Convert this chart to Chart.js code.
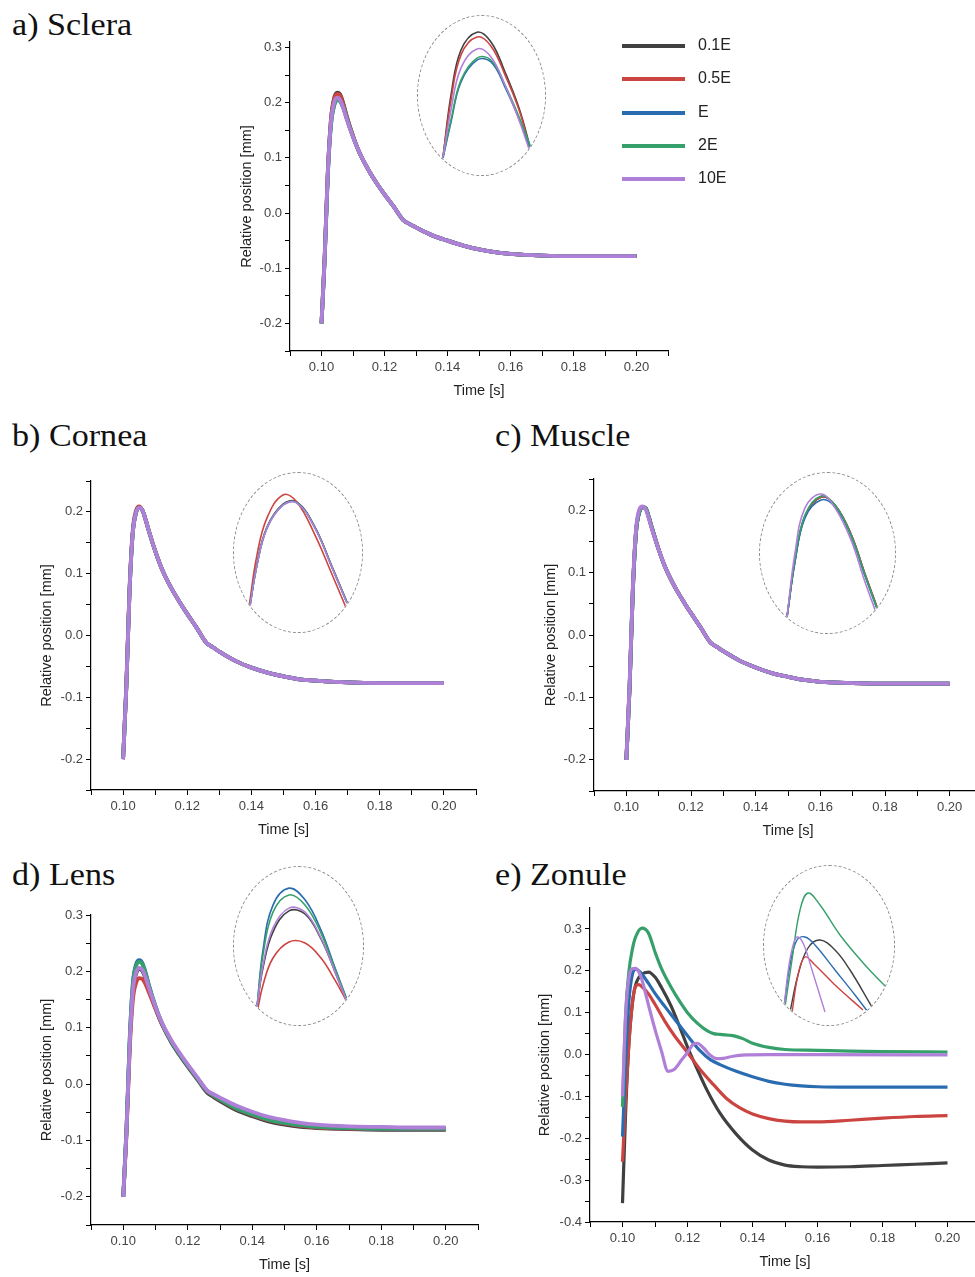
<!DOCTYPE html>
<html>
<head>
<meta charset="utf-8">
<script src="https://cdn.jsdelivr.net/npm/chart.js@4.4.1/dist/chart.umd.min.js"></script>
<style>
  body { margin: 0; width: 975px; height: 1277px; overflow: hidden; background: #fff; position: relative; font-family: "Liberation Sans", Arial, sans-serif; }
  .title { position: absolute; font-family: "Liberation Serif", "Times New Roman", serif; font-size: 31px; line-height: 31px; color: #111; transform-origin: left top; transform: scaleX(1.1); white-space: nowrap; }
  canvas.main { position: absolute; }
  .inset { position: absolute; box-sizing: border-box; border: 1px dashed #8a8a8a; border-radius: 50%; overflow: hidden; }
  .inset canvas { position: absolute; left: -1px; top: -1px; }
  .legend { position: absolute; left: 622px; top: 34px; }
  .legend .row { position: relative; height: 33.3px; }
  .legend .swatch { position: absolute; left: 0; top: 10px; width: 63px; height: 4px; }
  .legend .label { position: absolute; left: 76px; top: 2px; font-size: 16px; color: #222; }
</style>
</head>
<body>
<div class="title" style="left:12px; top:9px;">a) Sclera</div>
<div class="title" style="left:12px; top:420px;">b) Cornea</div>
<div class="title" style="left:495px; top:420px;">c) Muscle</div>
<div class="title" style="left:12px; top:859px;">d) Lens</div>
<div class="title" style="left:495px; top:859px;">e) Zonule</div>

<canvas class="main" id="chartA"></canvas>
<canvas class="main" id="chartB"></canvas>
<canvas class="main" id="chartC"></canvas>
<canvas class="main" id="chartD"></canvas>
<canvas class="main" id="chartE"></canvas>

<div class="inset" id="insetBoxA"><canvas id="insetA"></canvas></div>
<div class="inset" id="insetBoxB"><canvas id="insetB"></canvas></div>
<div class="inset" id="insetBoxC"><canvas id="insetC"></canvas></div>
<div class="inset" id="insetBoxD"><canvas id="insetD"></canvas></div>
<div class="inset" id="insetBoxE"><canvas id="insetE"></canvas></div>

<div class="legend" id="legend"></div>

<script>
// series names and colours (legend order)
const seriesNames = ['0.1E', '0.5E', 'E', '2E', '10E'];
const seriesColors = ['#404040', '#cc4440', '#2a6cb0', '#35a06a', '#b080d8'];

// tick values
const xMajor = [0.10, 0.12, 0.14, 0.16, 0.18, 0.20];
const xMinor = [0.09, 0.11, 0.13, 0.15, 0.17, 0.19, 0.21];
const yMajorA = [-0.2, -0.1, 0.0, 0.1, 0.2, 0.3];
const yMajorBC = [-0.2, -0.1, 0.0, 0.1, 0.2];
const yMajorD = [-0.2, -0.1, 0.0, 0.1, 0.2, 0.3];
const yMajorE = [-0.4, -0.3, -0.2, -0.1, 0.0, 0.1, 0.2, 0.3];
const yMinorAll = [-0.35, -0.25, -0.15, -0.05, 0.05, 0.15, 0.25];

// time points shared by panels a-d [s]
const timeMain = [0.100, 0.101, 0.102, 0.103, 0.104, 0.105, 0.106, 0.107, 0.108, 0.110,
  0.112, 0.115, 0.118, 0.120, 0.123, 0.126, 0.128, 0.130, 0.135, 0.140,
  0.145, 0.150, 0.155, 0.160, 0.170, 0.180, 0.190, 0.200];

// a) Sclera, relative position [mm], one row per series
const scleraY = [
  [-0.200, -0.080, 0.075, 0.170, 0.208, 0.218, 0.214, 0.197, 0.176, 0.140, 0.110, 0.077, 0.050, 0.034, 0.011, -0.013, -0.020, -0.026, -0.040, -0.050, -0.059, -0.066, -0.071, -0.074, -0.077, -0.078, -0.078, -0.078],
  [-0.200, -0.080, 0.074, 0.168, 0.206, 0.216, 0.212, 0.195, 0.175, 0.140, 0.110, 0.077, 0.050, 0.034, 0.011, -0.013, -0.020, -0.026, -0.040, -0.050, -0.059, -0.066, -0.071, -0.074, -0.077, -0.078, -0.078, -0.078],
  [-0.200, -0.085, 0.068, 0.160, 0.195, 0.205, 0.202, 0.189, 0.171, 0.138, 0.110, 0.077, 0.050, 0.034, 0.011, -0.013, -0.020, -0.026, -0.040, -0.050, -0.059, -0.066, -0.071, -0.074, -0.077, -0.078, -0.078, -0.078],
  [-0.200, -0.085, 0.068, 0.160, 0.195, 0.205, 0.202, 0.190, 0.172, 0.138, 0.110, 0.077, 0.050, 0.034, 0.011, -0.013, -0.020, -0.026, -0.040, -0.050, -0.059, -0.066, -0.071, -0.074, -0.077, -0.078, -0.078, -0.078],
  [-0.200, -0.082, 0.072, 0.165, 0.200, 0.209, 0.204, 0.189, 0.170, 0.138, 0.110, 0.077, 0.050, 0.034, 0.011, -0.013, -0.020, -0.026, -0.040, -0.050, -0.059, -0.066, -0.071, -0.074, -0.077, -0.078, -0.078, -0.078]
];

// b) Cornea
const corneaY = [
  [-0.200, -0.085, 0.070, 0.165, 0.198, 0.207, 0.203, 0.188, 0.170, 0.137, 0.109, 0.077, 0.051, 0.035, 0.012, -0.012, -0.019, -0.026, -0.041, -0.052, -0.060, -0.066, -0.071, -0.073, -0.076, -0.077, -0.077, -0.077],
  [-0.200, -0.080, 0.075, 0.170, 0.202, 0.209, 0.203, 0.187, 0.169, 0.137, 0.109, 0.077, 0.051, 0.035, 0.012, -0.012, -0.019, -0.026, -0.041, -0.052, -0.060, -0.066, -0.071, -0.073, -0.076, -0.077, -0.077, -0.077],
  [-0.200, -0.085, 0.070, 0.165, 0.198, 0.207, 0.203, 0.188, 0.170, 0.137, 0.109, 0.077, 0.051, 0.035, 0.012, -0.012, -0.019, -0.026, -0.041, -0.052, -0.060, -0.066, -0.071, -0.073, -0.076, -0.077, -0.077, -0.077],
  [-0.200, -0.085, 0.070, 0.165, 0.198, 0.207, 0.203, 0.188, 0.170, 0.137, 0.109, 0.077, 0.051, 0.035, 0.012, -0.012, -0.019, -0.026, -0.041, -0.052, -0.060, -0.066, -0.071, -0.073, -0.076, -0.077, -0.077, -0.077],
  [-0.200, -0.085, 0.070, 0.165, 0.198, 0.207, 0.203, 0.188, 0.170, 0.137, 0.109, 0.077, 0.051, 0.035, 0.012, -0.012, -0.019, -0.026, -0.041, -0.052, -0.060, -0.066, -0.071, -0.073, -0.076, -0.077, -0.077, -0.077]
];

// c) Muscle
const muscleY = [
  [-0.200, -0.085, 0.070, 0.165, 0.197, 0.205, 0.203, 0.188, 0.170, 0.137, 0.109, 0.077, 0.051, 0.035, 0.012, -0.012, -0.019, -0.026, -0.041, -0.052, -0.061, -0.067, -0.072, -0.075, -0.077, -0.078, -0.078, -0.078],
  [-0.200, -0.085, 0.070, 0.165, 0.197, 0.205, 0.203, 0.188, 0.170, 0.137, 0.109, 0.077, 0.051, 0.035, 0.012, -0.012, -0.019, -0.026, -0.041, -0.052, -0.061, -0.067, -0.072, -0.075, -0.077, -0.078, -0.078, -0.078],
  [-0.200, -0.085, 0.070, 0.165, 0.197, 0.205, 0.203, 0.188, 0.170, 0.137, 0.109, 0.077, 0.051, 0.035, 0.012, -0.012, -0.019, -0.026, -0.041, -0.052, -0.061, -0.067, -0.072, -0.075, -0.077, -0.078, -0.078, -0.078],
  [-0.200, -0.085, 0.070, 0.165, 0.197, 0.205, 0.203, 0.188, 0.170, 0.137, 0.109, 0.077, 0.051, 0.035, 0.012, -0.012, -0.019, -0.026, -0.041, -0.052, -0.061, -0.067, -0.072, -0.075, -0.077, -0.078, -0.078, -0.078],
  [-0.200, -0.080, 0.075, 0.170, 0.201, 0.206, 0.201, 0.186, 0.168, 0.137, 0.109, 0.077, 0.051, 0.035, 0.012, -0.012, -0.019, -0.026, -0.041, -0.052, -0.061, -0.067, -0.072, -0.075, -0.077, -0.078, -0.078, -0.078]
];

// d) Lens
const lensY = [
  [-0.200, -0.085, 0.070, 0.165, 0.196, 0.204, 0.200, 0.186, 0.168, 0.135, 0.106, 0.073, 0.047, 0.031, 0.008, -0.015, -0.023, -0.030, -0.046, -0.057, -0.066, -0.072, -0.076, -0.078, -0.080, -0.081, -0.081, -0.081],
  [-0.200, -0.090, 0.060, 0.150, 0.180, 0.188, 0.186, 0.176, 0.162, 0.133, 0.106, 0.075, 0.049, 0.033, 0.010, -0.013, -0.021, -0.028, -0.044, -0.055, -0.064, -0.070, -0.074, -0.077, -0.079, -0.080, -0.080, -0.080],
  [-0.200, -0.080, 0.080, 0.180, 0.213, 0.220, 0.214, 0.196, 0.175, 0.138, 0.108, 0.075, 0.049, 0.033, 0.010, -0.012, -0.020, -0.027, -0.043, -0.054, -0.063, -0.069, -0.073, -0.076, -0.078, -0.079, -0.079, -0.079],
  [-0.200, -0.080, 0.078, 0.178, 0.210, 0.217, 0.212, 0.195, 0.174, 0.138, 0.108, 0.075, 0.049, 0.033, 0.010, -0.012, -0.020, -0.027, -0.043, -0.054, -0.063, -0.069, -0.073, -0.076, -0.078, -0.079, -0.079, -0.079],
  [-0.200, -0.085, 0.070, 0.166, 0.198, 0.206, 0.202, 0.188, 0.170, 0.137, 0.109, 0.077, 0.051, 0.035, 0.012, -0.011, -0.018, -0.024, -0.038, -0.049, -0.058, -0.064, -0.069, -0.072, -0.075, -0.076, -0.077, -0.077]
];

// e) Zonule, each series has its own time points
const zonuleT01 = [0.100, 0.101, 0.102, 0.103, 0.104, 0.106, 0.108, 0.110, 0.112, 0.115, 0.118, 0.120, 0.123, 0.126, 0.130, 0.135, 0.140, 0.145, 0.150, 0.155, 0.160, 0.170, 0.180, 0.190, 0.200];
const zonuleY01 = [-0.355, -0.130, 0.030, 0.120, 0.165, 0.192, 0.197, 0.185, 0.160, 0.115, 0.058, 0.018, -0.035, -0.085, -0.140, -0.190, -0.228, -0.252, -0.264, -0.268, -0.269, -0.268, -0.265, -0.262, -0.259];
const zonuleT05 = [0.100, 0.101, 0.102, 0.103, 0.104, 0.105, 0.106, 0.108, 0.110, 0.113, 0.116, 0.120, 0.124, 0.128, 0.132, 0.136, 0.140, 0.145, 0.150, 0.155, 0.160, 0.170, 0.180, 0.190, 0.200];
const zonuleY05 = [-0.256, -0.100, 0.030, 0.120, 0.163, 0.167, 0.162, 0.145, 0.120, 0.080, 0.045, 0.005, -0.037, -0.072, -0.105, -0.127, -0.142, -0.153, -0.159, -0.161, -0.161, -0.157, -0.152, -0.148, -0.146];
const zonuleT1 = [0.100, 0.101, 0.102, 0.103, 0.104, 0.105, 0.106, 0.108, 0.110, 0.113, 0.116, 0.120, 0.124, 0.127, 0.130, 0.135, 0.140, 0.145, 0.150, 0.155, 0.160, 0.170, 0.180, 0.200];
const zonuleY1 = [-0.196, -0.010, 0.130, 0.190, 0.204, 0.200, 0.192, 0.170, 0.146, 0.115, 0.085, 0.045, 0.008, -0.012, -0.024, -0.040, -0.053, -0.064, -0.071, -0.075, -0.077, -0.078, -0.078, -0.078];
const zonuleT2 = [0.100, 0.101, 0.102, 0.103, 0.104, 0.106, 0.108, 0.110, 0.112, 0.115, 0.118, 0.120, 0.123, 0.126, 0.128, 0.130, 0.134, 0.137, 0.140, 0.145, 0.150, 0.160, 0.170, 0.180, 0.200];
const zonuleY2 = [-0.125, 0.100, 0.200, 0.250, 0.280, 0.302, 0.290, 0.245, 0.205, 0.160, 0.122, 0.100, 0.075, 0.057, 0.050, 0.048, 0.045, 0.038, 0.027, 0.017, 0.012, 0.010, 0.008, 0.007, 0.006];
const zonuleT10 = [0.100, 0.101, 0.102, 0.103, 0.104, 0.105, 0.106, 0.108, 0.110, 0.112, 0.114, 0.116, 0.118, 0.120, 0.122, 0.123, 0.125, 0.127, 0.129, 0.131, 0.134, 0.138, 0.145, 0.160, 0.200];
const zonuleY10 = [-0.100, 0.100, 0.185, 0.205, 0.206, 0.198, 0.178, 0.118, 0.060, 0.008, -0.040, -0.035, -0.015, 0.005, 0.026, 0.027, 0.015, -0.002, -0.010, -0.009, -0.004, -0.001, 0.000, 0.000, -0.001];

// insets: magnified peaks
const insetTA = [0.1043, 0.1047, 0.1052, 0.1060, 0.1067, 0.1074, 0.1081, 0.1087];
const insetYA = [
  [0.1814, 0.1991, 0.2120, 0.2171, 0.2143, 0.2057, 0.1954, 0.1834],
  [0.1814, 0.1977, 0.2106, 0.2157, 0.2131, 0.2049, 0.1949, 0.1829],
  [0.1811, 0.1914, 0.2029, 0.2091, 0.2086, 0.2014, 0.1923, 0.1834],
  [0.1814, 0.1920, 0.2034, 0.2097, 0.2091, 0.2020, 0.1929, 0.1840],
  [0.1814, 0.1949, 0.2069, 0.2123, 0.2100, 0.2020, 0.1920, 0.1820]
];
const insetTB = [0.1038, 0.1042, 0.1047, 0.1055, 0.1062, 0.1071, 0.1079, 0.1087];
const insetYB = [
  [0.1813, 0.1951, 0.2059, 0.2126, 0.2132, 0.2059, 0.1951, 0.1840],
  [0.1826, 0.1978, 0.2086, 0.2153, 0.2132, 0.2036, 0.1928, 0.1817],
  [0.1811, 0.1949, 0.2057, 0.2124, 0.2130, 0.2057, 0.1949, 0.1838],
  [0.1811, 0.1949, 0.2057, 0.2124, 0.2130, 0.2057, 0.1949, 0.1838],
  [0.1811, 0.1948, 0.2056, 0.2123, 0.2129, 0.2056, 0.1948, 0.1837]
];
const insetTC = [0.1044, 0.1048, 0.1053, 0.1061, 0.1068, 0.1076, 0.1083, 0.1089];
const insetYC = [
  [0.1799, 0.1962, 0.2092, 0.2147, 0.2124, 0.2040, 0.1924, 0.1828],
  [0.1799, 0.1962, 0.2092, 0.2147, 0.2124, 0.2040, 0.1924, 0.1828],
  [0.1799, 0.1959, 0.2087, 0.2139, 0.2119, 0.2034, 0.1918, 0.1823],
  [0.1799, 0.1965, 0.2095, 0.2150, 0.2124, 0.2037, 0.1921, 0.1825],
  [0.1799, 0.1985, 0.2116, 0.2156, 0.2116, 0.2023, 0.1901, 0.1805]
];
const insetTD = [0.1042, 0.1045, 0.1050, 0.1058, 0.1066, 0.1074, 0.1081, 0.1087];
const insetYD = [
  [0.1762, 0.1889, 0.2006, 0.2074, 0.2064, 0.1983, 0.1876, 0.1778],
  [0.1742, 0.1833, 0.1921, 0.1973, 0.1970, 0.1921, 0.1849, 0.1778],
  [0.1762, 0.1947, 0.2093, 0.2148, 0.2110, 0.2012, 0.1889, 0.1785],
  [0.1762, 0.1931, 0.2070, 0.2126, 0.2093, 0.2002, 0.1885, 0.1785],
  [0.1762, 0.1898, 0.2019, 0.2083, 0.2070, 0.1986, 0.1876, 0.1778]
];
const insetTE01 = [0.1027, 0.1035, 0.1045, 0.1057, 0.1072, 0.1087, 0.1109];
const insetYE01 = [0.173, 0.210, 0.237, 0.245, 0.235, 0.215, 0.178];
const insetTE05 = [0.1029, 0.1035, 0.1042, 0.1052, 0.1072, 0.1100];
const insetYE05 = [0.172, 0.210, 0.228, 0.220, 0.200, 0.175];
const insetTE1 = [0.1021, 0.1027, 0.1034, 0.1042, 0.1052, 0.1072, 0.1092, 0.1105];
const insetYE1 = [0.178, 0.220, 0.245, 0.248, 0.240, 0.215, 0.190, 0.173];
const insetTE2 = [0.1022, 0.1029, 0.1037, 0.1045, 0.1057, 0.1077, 0.1102, 0.1123];
const insetYE2 = [0.178, 0.225, 0.275, 0.292, 0.280, 0.250, 0.220, 0.198];
const insetTE10 = [0.1021, 0.1026, 0.1031, 0.1035, 0.1041, 0.1049, 0.1062];
const insetYE10 = [0.178, 0.220, 0.243, 0.248, 0.240, 0.215, 0.173];

Chart.defaults.font.family = '"Liberation Sans", Arial, sans-serif';
Chart.defaults.animation = false;

function toPoints(t, y) {
  return t.map(function (x, i) { return { x: x, y: y[i] }; });
}

// smooth = true gives a rounded spline (insets), otherwise monotone cubic
function lineSets(times, values, width, smooth) {
  return values.map(function (v, i) {
    return {
      label: seriesNames[i],
      data: toPoints(times[i], v),
      borderColor: seriesColors[i],
      borderWidth: width,
      pointRadius: 0,
      fill: false,
      cubicInterpolationMode: smooth ? 'default' : 'monotone',
      tension: smooth ? 0.4 : 0,
      order: seriesNames.length - 1 - i
    };
  });
}

function isMajor(list, v) {
  return list.some(function (m) { return Math.abs(m - v) < 1e-9; });
}

// draws one main panel; box = position of the plot area on the page
function mainChart(id, box, yMin, yMax, yMajor, datasets) {
  const padTop = 12, padRight = 14, xH = 52;
  const canvas = document.getElementById(id);
  canvas.width = box.yW + (box.right - box.left) + padRight;
  canvas.height = padTop + (box.bottom - box.top) + xH;
  canvas.style.left = (box.left - box.yW) + 'px';
  canvas.style.top = (box.top - padTop) + 'px';
  const yMinor = yMinorAll.filter(function (v) { return v >= yMin - 1e-9 && v <= yMax + 1e-9; });
  new Chart(canvas.getContext('2d'), {
    type: 'line',
    data: { datasets: datasets },
    options: {
      responsive: false,
      layout: { padding: { top: padTop, right: padRight, left: 0, bottom: 0 } },
      plugins: { legend: { display: false }, tooltip: { enabled: false } },
      scales: {
        x: {
          type: 'linear', min: 0.09, max: 0.21,
          afterBuildTicks: function (s) {
            s.ticks = xMajor.concat(xMinor).sort(function (a, b) { return a - b; }).map(function (v) { return { value: v }; });
          },
          afterFit: function (s) { s.height = xH; },
          ticks: {
            autoSkip: false, maxRotation: 0, padding: 4, color: '#444', font: { size: 13 },
            callback: function (v) { return isMajor(xMajor, v) ? v.toFixed(2) : ''; }
          },
          grid: { drawOnChartArea: false, color: '#000', tickLength: 5 },
          border: { display: true, color: '#000', width: 1.2 },
          title: { display: true, text: 'Time [s]', color: '#222', font: { size: 14.5 }, padding: { top: 0, bottom: 3 } }
        },
        y: {
          type: 'linear', min: yMin, max: yMax,
          afterBuildTicks: function (s) {
            s.ticks = yMajor.concat(yMinor).sort(function (a, b) { return a - b; }).map(function (v) { return { value: v }; });
          },
          afterFit: function (s) { s.width = box.yW; },
          ticks: {
            autoSkip: false, padding: 3, color: '#444', font: { size: 13 },
            callback: function (v) { return isMajor(yMajor, v) ? v.toFixed(1) : ''; }
          },
          grid: { drawOnChartArea: false, color: '#000', tickLength: 5 },
          border: { display: true, color: '#000', width: 1.2 },
          title: { display: true, text: 'Relative position [mm]', color: '#222', font: { size: 14.5 }, padding: { top: 4, bottom: 4 } }
        }
      }
    }
  });
}

// draws one magnified inset inside its dashed ellipse
function insetChart(id, box, xr, yr, datasets) {
  const wrap = document.getElementById(id.replace('inset', 'insetBox'));
  wrap.style.left = box.left + 'px';
  wrap.style.top = box.top + 'px';
  wrap.style.width = box.w + 'px';
  wrap.style.height = box.h + 'px';
  const canvas = document.getElementById(id);
  canvas.width = box.w;
  canvas.height = box.h;
  new Chart(canvas.getContext('2d'), {
    type: 'line',
    data: { datasets: datasets },
    options: {
      responsive: false,
      layout: { padding: 0 },
      plugins: { legend: { display: false }, tooltip: { enabled: false } },
      scales: {
        x: { type: 'linear', min: xr[0], max: xr[1], display: false },
        y: { type: 'linear', min: yr[0], max: yr[1], display: false }
      }
    }
  });
}

function same(t) { return seriesNames.map(function () { return t; }); }

mainChart('chartA', { left: 290, top: 42, right: 668, bottom: 351, yW: 56 }, -0.25, 0.31, yMajorA, lineSets(same(timeMain), scleraY, 3.8));
mainChart('chartB', { left: 91, top: 481, right: 476, bottom: 790, yW: 57 }, -0.25, 0.25, yMajorBC, lineSets(same(timeMain), corneaY, 3.8));
mainChart('chartC', { left: 594, top: 479, right: 982, bottom: 791, yW: 56 }, -0.25, 0.25, yMajorBC, lineSets(same(timeMain), muscleY, 3.8));
mainChart('chartD', { left: 91, top: 915, right: 478, bottom: 1225, yW: 57 }, -0.25, 0.30, yMajorD, lineSets(same(timeMain), lensY, 3.8));
mainChart('chartE', { left: 590, top: 908, right: 980, bottom: 1222, yW: 58 }, -0.40, 0.35, yMajorE,
  lineSets([zonuleT01, zonuleT05, zonuleT1, zonuleT2, zonuleT10], [zonuleY01, zonuleY05, zonuleY1, zonuleY2, zonuleY10], 3.2));

insetChart('insetA', { left: 417, top: 15, w: 129, h: 161 }, [0.1030, 0.10945], [0.176, 0.222], lineSets(same(insetTA), insetYA, 1.6, true));
insetChart('insetB', { left: 233, top: 472, w: 130, h: 161 }, [0.1030, 0.1095], [0.175, 0.222], lineSets(same(insetTB), insetYB, 1.6, true));
insetChart('insetC', { left: 759, top: 472, w: 137, h: 162 }, [0.1030, 0.10985], [0.175, 0.222], lineSets(same(insetTC), insetYC, 1.6, true));
insetChart('insetD', { left: 233, top: 866, w: 131, h: 160 }, [0.1030, 0.10955], [0.170, 0.222], lineSets(same(insetTD), insetYD, 1.6, true));
insetChart('insetE', { left: 763, top: 865, w: 132, h: 161 }, [0.1000, 0.1132], [0.159, 0.320],
  lineSets([insetTE01, insetTE05, insetTE1, insetTE2, insetTE10], [insetYE01, insetYE05, insetYE1, insetYE2, insetYE10], 1.4, true));

// legend for panel a
const legend = document.getElementById('legend');
seriesNames.forEach(function (name, i) {
  const row = document.createElement('div');
  row.className = 'row';
  row.innerHTML = '<div class="swatch" style="background:' + seriesColors[i] + '"></div><div class="label">' + name + '</div>';
  legend.appendChild(row);
});
</script>
</body>
</html>
